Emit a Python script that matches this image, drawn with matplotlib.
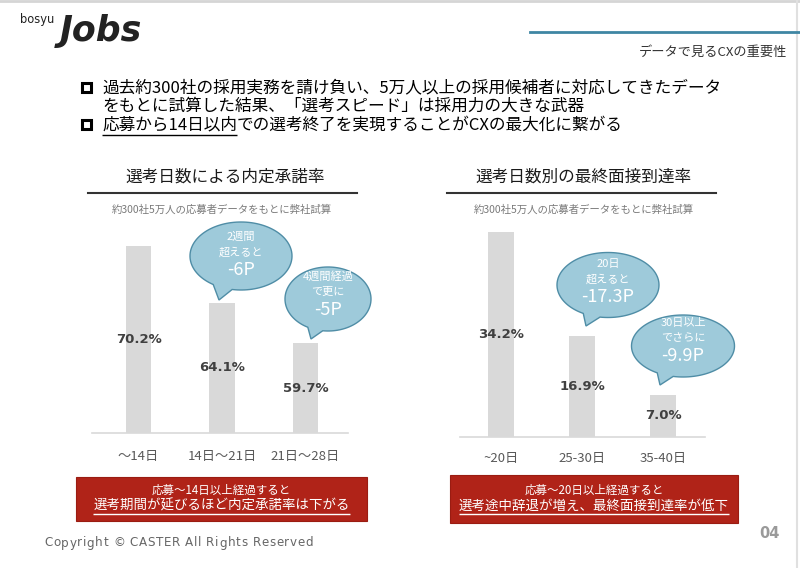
import matplotlib
matplotlib.use("Agg")
import matplotlib.pyplot as plt
from matplotlib.patches import Rectangle, Polygon
import numpy as np

plt.rcParams['font.family'] = ['Noto Sans CJK JP', 'DejaVu Sans']

# ---- data ----
left_cats = ["～14日", "14日～21日", "21日～28日"]
left_vals = [70.2, 64.1, 59.7]
left_bubbles = [["2週間", "超えると", "-6P"], ["4週間経過", "で更に", "-5P"]]

right_cats = ["~20日", "25-30日", "35-40日"]
right_vals = [34.2, 16.9, 7.0]
right_bubbles = [["20日", "超えると", "-17.3P"], ["30日以上", "でさらに", "-9.9P"]]

left_title = "選考日数による内定承諾率"
right_title = "選考日数別の最終面接到達率"
subtitle = "約300社5万人の応募者データをもとに弊社試算"

bullet1 = "過去約300社の採用実務を請け負い、5万人以上の採用候補者に対応してきたデータ"
bullet2 = "をもとに試算した結果、「選考スピード」は採用力の大きな武器"
bullet3a = "応募から14日以内"
bullet3b = "での選考終了を実現することがCXの最大化に繋がる"

left_box = ["応募～14日以上経過すると", "選考期間が延びるほど内定承諾率は下がる"]
right_box = ["応募～20日以上経過すると", "選考途中辞退が増え、最終面接到達率が低下"]

copyright_text = "Copyright © CASTER All Rights Reserved"

W, H = 800, 568
fig = plt.figure(figsize=(8, 5.68), dpi=100)
fig.patch.set_facecolor("white")

BAR = "#d9d9d9"
RED = "#b02318"
BFILL = "#9ecada"
BEDGE = "#4f8da6"


def pix_axes(x0, x1, y0, y1):
    # axes placed with pixel box (y measured from top)
    return fig.add_axes([x0 / W, 1 - y1 / H, (x1 - x0) / W, (y1 - y0) / H])


def bar_chart(ax, cats, vals, ybase, xlim, ylim, width, pad):
    x = np.arange(len(vals))
    ax.bar(x, [v - ybase for v in vals], bottom=ybase, width=width, color=BAR)
    for i, v in enumerate(vals):
        ax.text(i, (ybase + v) / 2, f"{v:.1f}%", ha="center", va="center",
                fontsize=9.5, fontweight="bold", color="#404040",
                family="DejaVu Sans")
    ax.set_xlim(*xlim)
    ax.set_ylim(*ylim)
    ax.set_xticks(x)
    ax.set_xticklabels(cats, fontsize=9.5, color="#595959")
    ax.tick_params(axis="x", length=0, pad=pad)
    ax.set_yticks([])
    for s in ["top", "left", "right"]:
        ax.spines[s].set_visible(False)
    ax.spines["bottom"].set_color(BAR)
    ax.spines["bottom"].set_linewidth(1.2)
    ax.patch.set_alpha(0)


axl = pix_axes(92, 348, 220, 433)
bar_chart(axl, left_cats, left_vals, 50, (-0.557, 2.509), (50, 73.03), 0.31, 12)

axr = pix_axes(460, 705, 225, 437)
bar_chart(axr, right_cats, right_vals, 0, (-0.506, 2.512), (0, 35.33), 0.32, 11)

# overlay in pixel coordinates for the slide decorations
ov = fig.add_axes([0, 0, 1, 1])
ov.set_xlim(0, W)
ov.set_ylim(H, 0)
ov.axis("off")
ov.patch.set_alpha(0)
renderer = fig.canvas.get_renderer()


def extent(t):
    bb = t.get_window_extent(renderer)
    inv = ov.transData.inverted()
    (x0, y0), (x1, y1) = inv.transform([[bb.x0, bb.y0], [bb.x1, bb.y1]])
    return x0, x1, y0, y1


def underline(t, color, lw=1.0, off=1.5):
    x0, x1, ybot, ytop = extent(t)
    ov.plot([x0, x1], [ybot + off, ybot + off], color=color, lw=lw,
            solid_capstyle="butt")


# frame
ov.plot([0, W], [1, 1], color="#d5d5d5", lw=2)
ov.plot([797, 797], [0, H], color="#e0e0e0", lw=1.5)

# header
ov.text(20, 20, "bosyu", fontsize=8.3, color="#222222", va="center",
        family="DejaVu Sans")
ov.text(60, 31, "Jobs", fontsize=25, fontweight="bold", style="italic",
        color="#222222", va="center", family="DejaVu Sans")
ov.plot([530, W], [32, 32], color="#3f86a3", lw=2)
ov.text(787, 52, "データで見るCXの重要性", fontsize=9.5, color="#333333",
        ha="right", va="center")

# bullets
for yb in [88, 125]:
    ov.add_patch(Rectangle((81.5, yb - 5), 9, 9, fill=False, ec="black", lw=2.2))
bfs = 12
ov.text(102, 88, bullet1, fontsize=bfs, va="center", color="black")
ov.text(102, 106, bullet2, fontsize=bfs, va="center", color="black")
t3 = ov.text(102, 125, bullet3a, fontsize=bfs, va="center", color="black")
underline(t3, "black", lw=1.0, off=1.0)
ov.text(extent(t3)[1], 125, bullet3b, fontsize=bfs, va="center", color="black")

# chart titles
for cx, title, x0, x1, sx in [(225, left_title, 88, 357, 222),
                              (583, right_title, 447, 716, 584)]:
    ov.text(cx, 177, title, fontsize=12, ha="center", va="center", color="#1a1a1a")
    ov.plot([x0, x1], [193, 193], color="#333333", lw=1.5)
    ov.text(sx, 210, subtitle, fontsize=7.5, ha="center", va="center",
            color="#7a7a7a")


# speech bubbles
def bubble(cx, cy, w, h, tip, gap, lines, ty):
    t = np.radians(np.linspace(gap[1], gap[0] + 360, 120))
    pts = np.column_stack([cx + w / 2 * np.cos(t), cy + h / 2 * np.sin(t)])
    pts = np.vstack([pts, tip])
    ov.add_patch(Polygon(pts, closed=True, fc=BFILL, ec=BEDGE, lw=1.0, zorder=5))
    ov.text(cx, ty - 19, lines[0], fontsize=8, color="white", ha="center",
            va="center", zorder=6)
    ov.text(cx, ty - 4, lines[1], fontsize=8, color="white", ha="center",
            va="center", zorder=6)
    ov.text(cx, ty + 14, lines[2], fontsize=13, color="white", ha="center",
            va="center", zorder=6)


bubble(241, 256, 102, 68, (219, 300), (100, 123), left_bubbles[0], 256)
bubble(328, 299, 86, 64, (311, 339), (97, 118), left_bubbles[1], 296)
bubble(608, 285, 102, 65, (586, 326), (99, 119), right_bubbles[0], 283)
bubble(683, 346, 103, 62, (660, 385), (101, 120), right_bubbles[1], 342)

# red conclusion boxes
for (x0, x1, y0, y1), lines in [((76, 367, 477, 521), left_box),
                                ((450, 738, 475, 523), right_box)]:
    ov.add_patch(Rectangle((x0, y0), x1 - x0, y1 - y0, fc=RED, ec="#9a1c12",
                           lw=0.8))
    cx = (x0 + x1) / 2
    ov.text(cx, 490, lines[0], fontsize=8.3, color="white", ha="center",
            va="center")
    t = ov.text(cx, 506, lines[1], fontsize=9.7, color="white", ha="center",
                va="center")
    underline(t, "white", lw=1.0, off=0.5)

# footer, drawn letter by letter for the wide tracking
xc = 44
for ch in copyright_text:
    t = ov.text(xc, 543, ch, fontsize=8.6, color="#666666", va="center",
                family="DejaVu Sans")
    if ch == " ":
        xc += 4.2
    else:
        xc = extent(t)[1] + 0.7
ov.text(780, 533, "04", fontsize=10.5, fontweight="bold", color="#9a9a9a",
        ha="right", va="center", family="DejaVu Sans")

fig.savefig("out.png", dpi=100)
